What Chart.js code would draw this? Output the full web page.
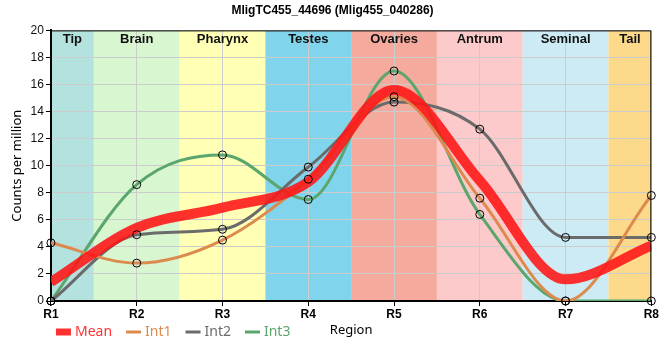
<!DOCTYPE html>
<html>
<head>
<meta charset="utf-8">
<script src="https://cdn.jsdelivr.net/npm/chart.js@4"></script>
<style>
  html, body { margin: 0; padding: 0; background: #fff; }
  #wrap { width: 660px; height: 360px; }
</style>
</head>
<body>
<div id="wrap"><canvas id="chart"></canvas></div>
<script>
const regions = ['R1', 'R2', 'R3', 'R4', 'R5', 'R6', 'R7', 'R8'];
const bandNames = ['Tip', 'Brain', 'Pharynx', 'Testes', 'Ovaries', 'Antrum', 'Seminal', 'Tail'];
const bandColors = ['#b4e2de', '#d8f6d0', '#ffffb6', '#80d4eb', '#f4aa9d', '#fdcacb', '#cdebf4', '#fdd98c'];

const meanVals = [1.4, 5.4, 6.9, 8.8, 15.6, 8.9, 1.6, 4.1];
const int1 = [4.3, 2.8, 4.5, 9.0, 15.1, 7.6, 0, 7.8];
const int2 = [0, 4.9, 5.3, 9.9, 14.7, 12.7, 4.7, 4.7];
const int3 = [0, 8.6, 10.8, 7.5, 17.0, 6.4, 0, 0];

const COL_MEAN = 'rgba(255,20,20,0.88)';
const COL_INT1 = '#dd8a4f';
const COL_INT2 = '#6b6b6b';
const COL_INT3 = '#5aa66c';

const FONT = '"Liberation Sans", Arial, sans-serif';

// region bands behind the grid
const bandsPlugin = {
    id: 'bands',
    beforeDraw(chart) {
        const { ctx, chartArea: a, scales: { x } } = chart;
        ctx.save();
        bandNames.forEach((name, i) => {
            const x0 = x.getPixelForValue(Math.max(0, i - 0.5));
            const x1 = x.getPixelForValue(Math.min(regions.length - 1, i + 0.5));
            ctx.fillStyle = bandColors[i];
            ctx.fillRect(x0, a.top, x1 - x0, a.bottom - a.top);
        });
        ctx.restore();
    },
    afterDatasetsDraw(chart) {
        const { ctx, chartArea: a, scales: { x } } = chart;
        ctx.save();
        ctx.font = 'bold 13px ' + FONT;
        ctx.fillStyle = '#111';
        ctx.textAlign = 'center';
        ctx.textBaseline = 'top';
        bandNames.forEach((name, i) => {
            const x0 = x.getPixelForValue(Math.max(0, i - 0.5));
            const x1 = x.getPixelForValue(Math.min(regions.length - 1, i + 0.5));
            ctx.fillText(name, (x0 + x1) / 2, a.top + 3);
        });
        // frame top / right
        ctx.strokeStyle = '#000';
        ctx.lineWidth = 1;
        ctx.beginPath();
        ctx.moveTo(a.left, a.top + 0.5);
        ctx.lineTo(a.right - 0.5, a.top + 0.5);
        ctx.lineTo(a.right - 0.5, a.bottom);
        ctx.stroke();
        ctx.restore();
    },
};

// legend drawn on the same row as the x title
const legendPlugin = {
    id: 'rowLegend',
    afterDraw(chart) {
        const { ctx, chartArea: a } = chart;
        const y = a.bottom + 31;
        let x = a.left + 5;
        ctx.save();
        ctx.font = '14px "Noto Sans", sans-serif';
        ctx.textBaseline = 'middle';
        chart.data.datasets.forEach(ds => {
            if (ds.isPoints) return;
            ctx.strokeStyle = ds.borderColor;
            ctx.lineWidth = ds.label === 'Mean' ? 7 : 3;
            ctx.beginPath();
            ctx.moveTo(x, y);
            ctx.lineTo(x + 15, y);
            ctx.stroke();
            ctx.fillStyle = ds.borderColor;
            ctx.fillText(ds.label, x + 19, y);
            x += 19 + ctx.measureText(ds.label).width + 14;
        });
        ctx.restore();
    },
};

const lineSet = (label, data, color, width, order) => ({
    label, data,
    borderColor: color,
    backgroundColor: color,
    borderWidth: width,
    pointRadius: 0,
    cubicInterpolationMode: 'monotone',
    fill: false,
    clip: 0,
    order,
});

const pointSet = (data) => ({
    label: '', data, isPoints: true,
    showLine: false,
    pointRadius: 4,
    pointBorderWidth: 1,
    pointBorderColor: '#000',
    pointBackgroundColor: 'rgba(0,0,0,0)',
    clip: false,
    order: 0,
});

new Chart(document.getElementById('chart'), {
    type: 'line',
    data: {
        labels: regions,
        datasets: [
            lineSet('Mean', meanVals, COL_MEAN, 10, 1),
            lineSet('Int1', int1, COL_INT1, 3, 2),
            lineSet('Int2', int2, COL_INT2, 3, 2),
            lineSet('Int3', int3, COL_INT3, 3, 2),
            pointSet(int1),
            pointSet(int2),
            pointSet(int3),
        ],
    },
    options: {
        responsive: true,
        maintainAspectRatio: false,
        animation: false,
        layout: { padding: { left: 9, right: 4, top: 0, bottom: 22 } },
        plugins: {
            legend: { display: false },
            tooltip: { enabled: false },
            title: {
                display: true,
                text: 'MligTC455_44696 (Mlig455_040286)',
                color: '#000',
                font: { family: FONT, size: 12, weight: 'bold' },
                padding: { top: 3, bottom: 13 },
            },
        },
        scales: {
            x: {
                offset: false,
                grid: { color: '#cccccc', tickColor: '#000', tickLength: 5 },
                border: { color: '#000', width: 2 },
                ticks: { color: '#000', font: { family: FONT, size: 12, weight: 'bold' }, padding: 1, maxRotation: 0 },
                title: { display: true, text: 'Region', color: '#000', font: { family: '"Noto Sans", sans-serif', size: 13 }, padding: { top: 0, bottom: 0 } },
            },
            y: {
                min: 0,
                max: 20,
                ticks: { stepSize: 2, color: '#111', font: { family: FONT, size: 12 }, padding: 2 },
                grid: { color: '#cccccc', tickColor: '#000', tickLength: 5 },
                border: { color: '#000', width: 2 },
                title: { display: true, text: 'Counts per million', color: '#000', font: { family: '"Noto Sans", sans-serif', size: 13 }, padding: { top: 0, bottom: 4 } },
            },
        },
    },
    plugins: [bandsPlugin, legendPlugin],
});
</script>
</body>
</html>
